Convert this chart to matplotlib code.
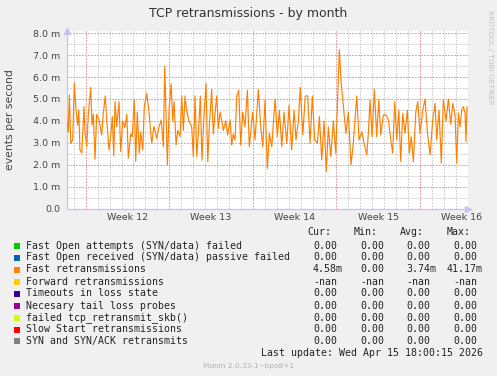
import numpy as np
import matplotlib
matplotlib.use("Agg")
import matplotlib.pyplot as plt
from matplotlib.patches import Rectangle

# days since left edge of the graph, and fast retransmissions (milli events/s)
days = [0.00, 0.13, 0.22, 0.34, 0.50, 0.64, 0.78, 0.92, 1.01, 1.11, 1.26, 1.45, 1.53, 1.68, 1.81,
        2.01, 2.12, 2.23, 2.37, 2.51, 2.73, 2.93, 3.07, 3.23, 3.35, 3.54, 3.69, 3.82, 3.94, 4.05,
        4.19, 4.38, 4.52, 4.69, 4.88, 5.03, 5.16, 5.36, 5.49, 5.66, 5.78, 5.91, 6.08, 6.20, 6.37,
        6.50, 6.70, 6.89, 7.12, 7.31, 7.54, 7.73, 7.92, 8.09, 8.21, 8.32, 8.43, 8.57, 8.74, 8.88,
        8.99, 9.16, 9.30, 9.49, 9.63, 9.77, 9.91, 10.05, 10.24, 10.47, 10.60, 10.75, 10.89, 11.02,
        11.19, 11.33, 11.50, 11.67, 11.81, 11.94, 12.14, 12.28, 12.42, 12.56, 12.70, 12.84, 12.98,
        13.12, 13.32, 13.48, 13.68, 13.82, 13.95, 14.10, 14.24, 14.41, 14.57, 14.74, 14.93, 15.13,
        15.29, 15.58, 15.77, 16.05, 16.25, 16.42, 16.61, 16.80, 16.97, 17.17, 17.45, 17.64, 17.81,
        18.01, 18.20, 18.43, 18.62, 18.84, 19.04, 19.20, 19.40, 19.56, 19.77, 19.98, 20.18, 20.38,
        20.57, 20.77, 20.99, 21.16, 21.36, 21.55, 21.74, 21.91, 22.11, 22.33, 22.53, 22.70, 22.83,
        22.97, 23.17, 23.39, 23.58, 23.81, 24.00, 24.29, 24.48, 24.71, 24.90, 25.13, 25.26, 25.40,
        25.57, 25.76, 25.96, 26.13, 26.30, 26.52, 26.74, 26.94, 27.14, 27.30, 27.47, 27.64, 27.81,
        27.97, 28.14, 28.33, 28.53, 28.69, 28.86, 29.03, 29.23, 29.40, 29.59, 29.82, 30.01, 30.20,
        30.43, 30.65, 30.85, 30.99, 31.18, 31.37, 31.54, 31.77, 31.96, 32.16, 32.33, 32.52, 32.66,
        32.80, 32.94, 33.08, 33.22, 33.36, 33.44, 33.52]
fast_retrans = [4.04, 3.5, 5.18, 2.98, 3.13, 5.74, 4.5, 3.8, 4.5, 2.67, 2.53, 4.65, 3.5, 2.82, 4.3,
                5.53, 3.8, 4.3, 2.25, 4.3, 4.0, 3.36, 4.38, 5.14, 4.05, 2.67, 3.36, 4.2, 2.4, 4.88,
                3.73, 4.88, 2.6, 4.0, 3.7, 4.3, 2.3, 3.4, 3.28, 4.98, 2.14, 4.4, 2.53, 3.5, 2.67,
                4.68, 5.26, 4.4, 2.98, 3.75, 3.2, 3.73, 4.04, 2.82, 6.5, 4.3, 1.99, 4.5, 5.7, 4.0,
                4.88, 2.9, 3.57, 3.28, 5.14, 3.57, 5.14, 4.45, 4.0, 3.73, 2.37, 5.14, 2.37, 3.4,
                5.14, 2.2, 4.3, 5.7, 2.14, 3.73, 5.44, 3.4, 4.35, 5.14, 3.66, 4.4, 4.04,
                3.57, 4.0, 3.36, 4.05, 2.9, 3.4, 3.13, 5.14, 5.4, 2.9, 4.4, 3.73, 5.4,
                2.82, 4.4, 3.13, 5.44, 3.73, 2.82, 4.96, 1.83, 3.43, 2.82, 5.0, 3.28, 4.49,
                2.82, 4.4, 2.98, 4.72, 2.67, 4.49, 3.13, 4.0, 5.53, 3.36, 5.14, 5.14, 2.98,
                5.14, 3.13, 2.98, 4.2, 2.22, 4.0, 1.68, 3.73, 2.37, 4.0, 2.53, 5.14, 7.24,
                5.87, 4.65, 3.43, 4.4, 1.99, 2.98, 5.14, 3.13, 3.5, 2.98, 2.45, 3.43, 4.96,
                3.28, 5.44, 3.28, 4.96, 3.36, 4.27, 4.27, 4.04, 3.13, 2.53, 4.88, 3.13, 4.49,
                2.14, 4.35, 3.43, 4.49, 2.53, 3.28, 2.14, 4.4, 4.88, 3.43, 4.49, 5.0, 3.5,
                2.45, 4.04, 4.8, 3.13, 4.49, 2.07, 4.96, 4.0, 5.0, 3.85, 4.8, 4.27, 2.07,
                4.35, 3.73, 4.5, 4.65, 4.35, 3.05, 4.65]

week_starts = [1.59, 8.59, 15.59, 22.59, 29.59]
week_labels = ["Week 12", "Week 13", "Week 14", "Week 15", "Week 16"]
x_end = 33.58

legend_labels = ["Fast Open attempts (SYN/data) failed",
                 "Fast Open received (SYN/data) passive failed",
                 "Fast retransmissions",
                 "Forward retransmissions",
                 "Timeouts in loss state",
                 "Necesary tail loss probes",
                 "failed tcp_retransmit_skb()",
                 "Slow Start retransmissions",
                 "SYN and SYN/ACK retransmits"]
legend_colors = ["#00cc00", "#0066b3", "#ff8000", "#ffcc00", "#330099",
                 "#990099", "#ccff00", "#ff0000", "#808080"]
cur_vals = ["0.00", "0.00", "4.58m", "-nan", "0.00", "0.00", "0.00", "0.00", "0.00"]
min_vals = ["0.00", "0.00", "0.00", "-nan", "0.00", "0.00", "0.00", "0.00", "0.00"]
avg_vals = ["0.00", "0.00", "3.74m", "-nan", "0.00", "0.00", "0.00", "0.00", "0.00"]
max_vals = ["0.00", "0.00", "41.17m", "-nan", "0.00", "0.00", "0.00", "0.00", "0.00"]

W, H = 497, 376
BG = "#f0f0f0"
fig = plt.figure(figsize=(W / 100, H / 100), dpi=100, facecolor=BG)


def fx(x):
    return x / W


def fy(y):
    return 1 - y / H


ax = fig.add_axes([fx(66.7), fy(208.5), fx(467.7) - fx(66.7), fy(31.1) - fy(208.5)])
ax.set_facecolor("white")
ax.set_xlim(0, x_end)
ax.set_ylim(0, 8.1)

# grid (rrdtool style dotted)
dot = (0, (1.4, 1.4))
day_lines = [d for d in np.arange(week_starts[0] - 1, x_end, 1.0) if d not in week_starts]
grid_kw = dict(linestyles=dot, lw=0.72, antialiased=False)
ax.vlines(day_lines, 0, 8.1, colors="#d4d4d4", zorder=1, **grid_kw)
ax.hlines(np.arange(0.5, 8.1, 1.0), 0, x_end, colors="#d4d4d4", zorder=1, **grid_kw)
ax.vlines(week_starts, 0, 8.1, colors="#f2a4a4", zorder=2, **grid_kw)
ax.hlines(np.arange(1, 8.1, 1.0), 0, x_end, colors="#f2a4a4", zorder=2, **grid_kw)

ax.plot(days, fast_retrans, color="#ff8000", lw=0.85, zorder=3)

yt = np.arange(0, 8.1, 1.0)
ax.set_yticks(yt)
ax.set_yticklabels(["0.0"] + ["%.1f m" % v for v in yt[1:]])
ax.set_xticks([w + 3.5 for w in week_starts])
ax.set_xticklabels(week_labels)
ax.tick_params(length=0, labelsize=6.8, colors="#444444")
ax.tick_params(axis="y", pad=4.8)
ax.tick_params(axis="x", pad=3.5)
for s in ["top", "right"]:
    ax.spines[s].set_visible(False)
for s in ["left", "bottom"]:
    ax.spines[s].set_color("#c4c4f4")
    ax.spines[s].set_linewidth(0.9)
ax.plot([1.0], [0], marker=">", ms=4, color="#c4c4f4", transform=ax.transAxes, clip_on=False)
ax.plot([0], [1.0], marker="^", ms=4, color="#c4c4f4", transform=ax.transAxes, clip_on=False)

fig.text(fx(248), fy(13), "TCP retransmissions - by month", ha="center", va="center",
         fontsize=9, color="#333333")
fig.text(fx(10), fy(120), "events per second", rotation=90, ha="center", va="center",
         fontsize=7.8, color="#444444")
fig.text(fx(490), fy(57), "RRDTOOL / TOBI OETIKER", rotation=270, ha="center", va="center",
         fontsize=5.3, color="#c0c0c0")

mono = "DejaVu Sans Mono"
fs = 7.1
tc = "#222222"
for name, x_right in zip(["Cur:", "Min:", "Avg:", "Max:"], [331, 378, 424, 471]):
    fig.text(fx(x_right), fy(232), name, ha="right", va="center", family=mono, fontsize=fs, color=tc)

row_y = [245.7, 257.5, 269.5, 281.6, 293.5, 305.6, 317.6, 329.5, 341.4]
col_edges = [343, 390, 436, 483]
for i, lab in enumerate(legend_labels):
    y = row_y[i]
    fig.patches.append(Rectangle((fx(14), fy(y + 3)), fx(6), fy(y - 3) - fy(y + 3),
                                 transform=fig.transFigure, facecolor=legend_colors[i],
                                 edgecolor="none"))
    fig.text(fx(26.5), fy(y), lab, ha="left", va="center", family=mono, fontsize=fs, color=tc)
    for col, edge in zip([cur_vals, min_vals, avg_vals, max_vals], col_edges):
        v = col[i]
        xr = edge if v.endswith("m") else edge - 6
        fig.text(fx(xr), fy(y), v, ha="right", va="center", family=mono, fontsize=fs, color=tc)

fig.text(fx(483), fy(353.3), "Last update: Wed Apr 15 18:00:15 2026", ha="right", va="center",
         family=mono, fontsize=fs, color=tc)
fig.text(fx(249), fy(365.7), "Munin 2.0.33-1~bpo8+1", ha="center", va="center",
         fontsize=5.3, color="#b0b0b0")

fig.savefig("out.png", dpi=100, facecolor=BG)
